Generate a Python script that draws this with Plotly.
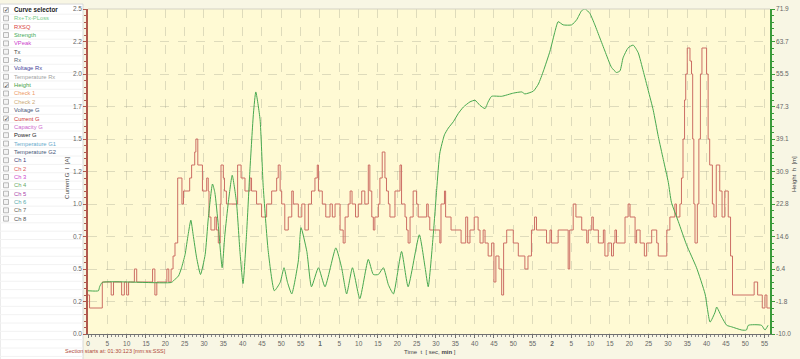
import plotly.graph_objects as go

# ---------------- data ----------------
time_current = [0.0, 0.4, 3.7, 6.0, 6.6, 8.7, 9.4, 10.0, 10.5, 12.0, 12.6, 16.7, 17.3, 17.8, 20.4, 20.9,
                21.5, 22.0, 22.5, 23.2, 24.3, 24.7, 26.3, 26.8, 27.6, 27.9, 28.4, 29.6, 30.7, 31.1, 31.3,
                31.8, 32.8, 33.2, 33.7, 34.2, 34.4, 35.0, 35.3, 35.8, 38.7, 39.6, 40.6, 41.9, 42.3, 43.6,
                44.9, 46.2, 47.5, 48.8, 49.2, 49.7, 50.1, 50.9, 51.8, 52.7, 53.1, 54.4, 55.3, 56.1, 57.0,
                57.8, 58.7, 59.3, 59.6, 60.6, 61.5, 62.6, 63.2, 63.9, 65.2, 66.0, 66.5, 67.3, 67.8, 68.3,
                69.2, 69.9, 70.8, 71.6, 72.5, 72.9, 73.4, 73.8, 74.2, 75.1, 75.5, 76.1, 76.8, 77.2, 77.7,
                78.1, 79.4, 80.7, 81.1, 82.0, 82.4, 82.8, 83.3, 84.1, 85.0, 85.4, 87.6, 88.0, 88.4, 91.0,
                91.3, 92.2, 92.5, 93.9, 96.5, 97.7, 98.2, 98.8, 99.9, 100.9, 101.4, 102.2, 102.7, 103.5,
                104.4, 105.0, 105.5, 106.3, 107.0, 107.5, 108.3, 110.0, 111.3, 113.0, 113.8, 114.7, 115.5,
                116.0, 118.6, 119.5, 119.9, 121.6, 124.2, 124.6, 125.5, 126.2, 127.7, 129.0, 129.4, 130.3,
                130.7, 132.0, 133.3, 133.7, 134.5, 135.4, 135.9, 136.3, 136.7, 138.9, 139.7, 140.2, 141.5,
                141.9, 142.8, 143.9, 144.5, 145.8, 147.1, 147.5, 149.7, 150.5, 151.8, 152.2, 153.1, 153.5,
                153.9, 154.3, 154.6, 155.0, 155.7, 156.1, 156.4, 156.7, 157.0, 157.6, 158.0, 158.4, 158.8,
                160.0, 160.4, 160.8, 161.5, 161.9, 162.5, 163.4, 164.0, 164.7, 165.6, 166.2, 166.7, 172.3,
                173.2, 174.4, 175.1, 175.6, 176.4]
current_A = [0.3, 0.2, 0.4, 0.3, 0.4, 0.3, 0.4, 0.3, 0.4, 0.5, 0.4, 0.5, 0.3, 0.4, 0.5, 0.4,
             0.5, 0.6, 0.7, 1.2, 1.0, 1.1, 1.2, 1.3, 1.4, 1.5, 1.3, 1.1, 1.2, 1.1, 0.9,
             0.8, 0.9, 0.8, 0.7, 1.0, 1.3, 1.2, 1.1, 1.0, 1.3, 1.2, 1.1, 1.2, 1.1, 1.0,
             0.9, 1.0, 1.1, 1.2, 1.3, 1.1, 1.0, 0.8, 0.9, 1.1, 1.0, 0.9, 1.0, 0.8, 1.0,
             1.1, 1.2, 1.3, 1.1, 1.0, 0.9, 1.0, 0.9, 1.0, 0.8, 0.7, 0.9, 1.0, 1.1, 1.0,
             0.9, 1.0, 1.1, 1.0, 1.3, 1.1, 0.9, 0.8, 0.9, 1.0, 1.2, 1.4, 1.2, 1.1, 1.0,
             0.9, 1.1, 1.3, 1.0, 0.9, 0.8, 0.7, 0.9, 1.1, 1.0, 0.9, 1.0, 0.9, 0.8, 0.7,
             1.0, 1.1, 0.9, 0.8, 0.7, 0.9, 0.7, 0.8, 0.9, 0.8, 0.7, 0.8, 0.7, 0.6,
             0.7, 0.4, 0.6, 0.5, 0.3, 0.7, 0.8, 0.7, 0.6, 0.5, 0.6, 0.8, 0.9,
             0.8, 0.7, 0.8, 0.7, 0.8, 0.5, 0.8, 1.0, 0.9, 0.8, 0.7, 0.8, 0.9,
             0.8, 0.7, 0.8, 0.6, 0.7, 0.6, 0.7, 0.8, 0.7, 0.9, 1.0, 0.9, 0.7,
             0.8, 0.7, 0.6, 0.7, 0.8, 0.7, 0.6, 0.8, 0.9, 1.0, 0.9, 1.0, 1.2,
             1.5, 1.8, 2.0, 2.2, 2.1, 2.0, 1.5, 1.0, 0.7, 1.0, 1.5, 2.0, 2.2,
             2.0, 1.5, 1.3, 1.0, 0.9, 1.3, 1.1, 0.9, 1.1, 0.9, 0.6, 0.3, 0.4,
             0.3, 0.2, 0.3, 0.2, 0.2]

time_height = [0.0, 2.7, 3.0, 3.7, 21.6, 22.5, 23.4, 24.2, 25.1, 25.9, 26.6, 27.2, 28.1, 29.1, 30.3,
               31.1, 32.2, 32.8, 33.7, 34.7, 35.4, 36.3, 37.3, 38.4, 39.3, 40.1, 41.0, 41.9, 42.8,
               43.4, 44.5, 45.3, 46.6, 48.2, 49.7, 50.7, 51.6, 52.7, 54.4, 55.1, 56.6, 57.8, 59.6,
               61.3, 64.1, 65.6, 66.9, 68.4, 70.3, 72.5, 73.8, 75.1, 76.4, 77.7, 79.0, 81.1, 82.8,
               85.7, 87.2, 88.0, 89.3, 90.2, 91.0, 92.2, 93.2, 94.5, 95.8, 97.1, 98.8, 100.1, 101.4,
               102.7, 103.5, 104.4, 107.0, 110.0, 112.2, 113.0, 115.2, 116.5, 117.8, 119.5, 120.8,
               121.6, 122.9, 125.1, 126.4, 127.7, 128.6, 129.8, 131.1, 132.4, 133.7, 135.4, 136.7,
               137.6, 138.4, 139.7, 141.0, 142.3, 143.6, 144.9, 146.2, 147.5, 148.8, 150.1, 150.9,
               152.7, 154.8, 157.4, 159.6, 160.9, 162.2, 162.6, 163.9, 165.2, 166.5, 169.1, 170.3,
               170.8, 174.2, 175.1, 175.9]
height_m = [0.9, 0.9, 1.9, 3.0, 3.0, 3.8, 4.6, 6.7, 10.0, 15.0, 18.7, 15.0, 9.2, 5.0, 10.0,
            19.0, 27.8, 25.7, 17.4, 6.7, 15.0, 23.2, 30.0, 23.2, 10.8, 2.7, 15.0, 31.6, 45.7,
            51.0, 44.1, 27.5, 11.0, 0.9, 3.0, 6.7, 3.0, 0.1, 8.4, 16.8, 10.8, 1.9, 6.7,
            1.9, 11.7, 6.7, 0.1, 6.7, -1.1, 8.8, 5.0, 5.0, 6.7, 2.4, 0.1, 10.8, 1.9,
            15.0, 6.7, 1.9, 15.0, 26.6, 35.6, 40.2, 41.9, 43.5, 45.6, 47.2, 48.5, 48.9, 47.6,
            46.8, 48.5, 49.9, 49.9, 50.7, 51.0, 50.5, 51.2, 53.0, 56.3, 61.3, 66.3,
            68.7, 67.9, 67.9, 69.2, 71.5, 71.9, 70.8, 67.9, 64.6, 61.3, 57.2, 55.9,
            56.3, 59.6, 62.1, 62.8, 60.9, 56.3, 51.4, 46.4, 39.8, 34.0, 28.2, 23.2,
            18.3, 12.5, 6.7, 0.1, -7.0, -4.5, -3.2, -5.7, -7.8, -8.2, -9.0, -9.0,
            -7.8, -7.8, -9.0, -7.8]

x_tick_vals = [0, 5, 10, 15, 20, 25, 30, 35, 40, 45, 50, 55,
               60, 65, 70, 75, 80, 85, 90, 95, 100, 105, 110, 115,
               120, 125, 130, 135, 140, 145, 150, 155, 160, 165, 170, 175]
x_tick_labels = ["0", "5", "10", "15", "20", "25", "30", "35", "40", "45", "50", "55",
                 "<b>1</b>", "5", "10", "15", "20", "25", "30", "35", "40", "45", "50", "55",
                 "<b>2</b>", "5", "10", "15", "20", "25", "30", "35", "40", "45", "50", "55"]
y_tick_vals = [0, 0.25, 0.5, 0.75, 1.0, 1.25, 1.5, 1.75, 2.0, 2.25, 2.5]
y_tick_labels = ["0.0", "0.2", "0.5", "0.7", "1.0", "1.2", "1.5", "1.7", "2.0", "2.2", "2.5"]
y2_tick_vals = [-10.0, -1.81, 6.38, 14.57, 22.76, 30.95, 39.14, 47.33, 55.52, 63.71, 71.9]
y2_tick_labels = ["-10.0", "-1.8", "6.4", "14.6", "22.8", "30.9", "39.1", "47.3", "55.5", "63.7", "71.9"]

selector_names = ["Rx+Tx-PLoss", "RXSQ", "Strength", "VPeak", "Tx", "Rx", "Voltage Rx", "Temperature Rx",
                  "Height", "Check 1", "Check 2", "Voltage G", "Current G", "Capacity G", "Power G",
                  "Temperature G1", "Temperature G2", "Ch 1", "Ch 2", "Ch 3", "Ch 4", "Ch 5", "Ch 6",
                  "Ch 7", "Ch 8"]
selector_colors = ["#77CC88", "#D94444", "#44AA55", "#CC44CC", "#444444", "#556677", "#444499", "#A0A0A0",
                   "#44A044", "#EE9966", "#CCAA77", "#445577", "#CC3333", "#CC66CC", "#222222",
                   "#66AACC", "#445577", "#444477", "#DD5555", "#CC44CC", "#66AA66", "#AA44AA", "#55AAAA",
                   "#666655", "#555555"]
selector_checked = [False, False, False, False, False, False, False, False,
                    True, False, False, False, True, False, False,
                    False, False, False, False, False, False, False, False,
                    False, False]

# ---------------- geometry helpers ----------------
W, H = 800, 359
L, R, T, B = 88, 770, 5, 334


def px(x):
    return (x - L) / (R - L)


def py(y):
    return (B - y) / (B - T)


FONT = "Liberation Sans, Arial, sans-serif"
GRID = "rgba(160,160,140,0.35)"

fig = go.Figure()
fig.add_trace(go.Scatter(x=time_current, y=current_A, mode="lines", yaxis="y",
                         line=dict(color="#CC6E64", width=1, shape="hv"), showlegend=False,
                         hoverinfo="skip"))
fig.add_trace(go.Scatter(x=time_height, y=height_m, mode="lines", yaxis="y2",
                         line=dict(color="#47A84F", width=1, shape="spline", smoothing=0.5),
                         showlegend=False, hoverinfo="skip"))

shapes = []
annotations = []

# left selector panel
shapes.append(dict(type="rect", xref="paper", yref="paper", x0=px(0), x1=px(83), y0=py(W), y1=py(0),
                   fillcolor="#FFFFFF", line=dict(color="#D8D8D8", width=1), layer="below"))
row_h = 8.45
y0_row = 6
for k in range(42):
    yy = y0_row + row_h * k + row_h / 2
    if yy < 358:
        shapes.append(dict(type="line", xref="paper", yref="paper", x0=px(0), x1=px(83),
                           y0=py(yy), y1=py(yy), line=dict(color="#F2F2F2", width=1), layer="below"))

rows = [("Curve selector", "#222222", True, True)] + [
    (n, c, ch, False) for n, c, ch in zip(selector_names, selector_colors, selector_checked)]
for i, (name, col, checked, bold) in enumerate(rows):
    yc = y0_row + row_h * i
    shapes.append(dict(type="rect", xref="paper", yref="paper", x0=px(3.5), x1=px(8.5),
                       y0=py(yc + 2.5), y1=py(yc - 2.5), fillcolor="#F4F4F4",
                       line=dict(color="#A8A8A8", width=0.8)))
    if checked:
        annotations.append(dict(xref="paper", yref="paper", x=px(6), y=py(yc), text="✓",
                                showarrow=False, font=dict(size=6, color="#333333", family="DejaVu Sans"),
                                xanchor="center", yanchor="middle"))
    annotations.append(dict(xref="paper", yref="paper", x=px(12), y=py(yc),
                            text=("<b>%s</b>" % name) if bold else name, showarrow=False,
                            font=dict(size=5.8 if not bold else 6.3, color=col, family=FONT),
                            xanchor="left", yanchor="middle"))

# top border of plot
shapes.append(dict(type="line", xref="paper", yref="paper", x0=0, x1=1, y0=1, y1=1,
                   line=dict(color="#D4D2C4", width=1)))

# axis titles and notes
annotations.append(dict(xref="paper", yref="paper", x=px(67), y=py(176), text="Current G  I  [A]",
                        textangle=-90, showarrow=False, font=dict(size=6, color="#444444", family=FONT),
                        xanchor="center", yanchor="middle"))
annotations.append(dict(xref="paper", yref="paper", x=px(794), y=py(172), text="Height  h  [m]",
                        textangle=-90, showarrow=False, font=dict(size=6, color="#444444", family=FONT),
                        xanchor="center", yanchor="middle"))
annotations.append(dict(xref="paper", yref="paper", x=px(430), y=py(352),
                        text="Time  t  [ sec, <b>min</b> ]", showarrow=False,
                        font=dict(size=6, color="#444444", family=FONT), xanchor="center", yanchor="middle"))
annotations.append(dict(xref="paper", yref="paper", x=px(63), y=py(351),
                        text="Section starts at: 01:30:123 [mm:ss:SSS]", showarrow=False,
                        font=dict(size=5.5, color="#B04A3A", family=FONT), xanchor="left", yanchor="middle"))

tickfont = dict(size=6.5, color="#666666", family=FONT)

fig.update_layout(
    width=W, height=H, autosize=False,
    margin=dict(l=L, r=W - R, t=T, b=H - B, pad=0),
    paper_bgcolor="#F8F6E4", plot_bgcolor="#FFFAD4",
    font=dict(family=FONT, size=6.5, color="#666666"),
    shapes=shapes, annotations=annotations,
    xaxis=dict(range=[0, 176.4], tickmode="array", tickvals=x_tick_vals, ticktext=x_tick_labels,
               showgrid=True, gridcolor=GRID, griddash="dash", gridwidth=1, zeroline=False,
               showline=True, linecolor="#707070", linewidth=1, ticks="outside", ticklen=3,
               tickcolor="#707070", tickfont=tickfont,
               minor=dict(ticks="outside", ticklen=2, tick0=0, dtick=1, tickcolor="#8A8A8A",
                          showgrid=False)),
    yaxis=dict(range=[0, 2.5], tickmode="array", tickvals=y_tick_vals, ticktext=y_tick_labels,
               showgrid=True, gridcolor=GRID, griddash="dash", gridwidth=1, zeroline=False,
               showline=True, linecolor="#B0584E", linewidth=1.5, ticks="outside", ticklen=3,
               tickcolor="#B0584E", tickfont=tickfont,
               minor=dict(ticks="outside", ticklen=2, tick0=0, dtick=0.05, tickcolor="#B0584E",
                          showgrid=False)),
    yaxis2=dict(range=[-10, 71.9], overlaying="y", side="right", tickmode="array",
                tickvals=y2_tick_vals, ticktext=y2_tick_labels, showgrid=False, zeroline=False,
                showline=True, linecolor="#3A9A3A", linewidth=1.5, ticks="outside", ticklen=3,
                tickcolor="#3A9A3A", tickfont=tickfont,
                minor=dict(ticks="outside", ticklen=2, tick0=-10, dtick=1.638, tickcolor="#3A9A3A",
                           showgrid=False)),
)

fig.write_html("out.html")
